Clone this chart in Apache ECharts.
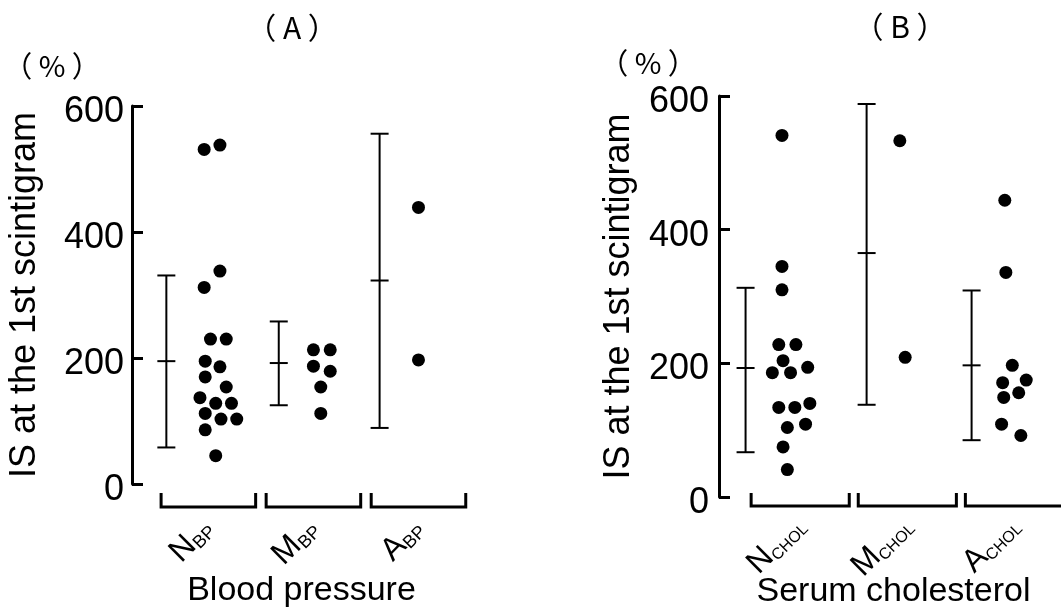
<!DOCTYPE html>
<html>
<head>
<meta charset="utf-8">
<script src="https://cdn.jsdelivr.net/npm/echarts@6/dist/echarts.min.js"></script>
<style>html,body{margin:0;background:#fff}#chart{width:1061px;height:613px}</style>
</head>
<body>
<div id="chart"></div>
<script>
// group letters and their subscripts
var bpGroups = ['N', 'M', 'A'];
var bpSub = 'BP';
var cholGroups = ['N', 'M', 'A'];
var cholSub = 'CHOL';
var yMax = 600;
var yStep = 200;

// (A) blood pressure: mean with range bar, bar sits left of the dots
var bpMean = [195, 192, 323];
var bpLow = [58, 125, 89];
var bpHigh = [331, 258, 556];
var bpBarShift = [-0.40, -0.33, -0.37];

// (A) individual values, with the sideways spread of each dot
var bpN = [538, 531, 338, 312, 230, 230, 195, 186, 170, 154, 137, 128, 128, 112, 103, 103, 86, 45];
var bpNShift = [0.11, -0.04, 0.11, -0.04, 0.02, 0.17, -0.03, 0.11, -0.03, 0.17, -0.08, 0.07, 0.22, -0.03, 0.12, 0.27, -0.03, 0.07];
var bpM = [213, 213, 187, 179, 154, 112];
var bpMShift = [0, 0.16, 0, 0.16, 0.07, 0.07];
var bpA = [439, 197];
var bpAShift = [0, 0];

// (B) serum cholesterol
var cholMean = [193, 365, 197];
var cholLow = [67, 138, 85];
var cholHigh = [313, 588, 309];
var cholBarShift = [-0.51, -0.38, -0.40];

var cholN = [541, 345, 310, 228, 228, 204, 186, 186, 194, 134, 134, 140, 104, 109, 75, 41];
var cholNShift = [-0.17, -0.17, -0.17, -0.20, -0.04, -0.16, -0.26, -0.09, 0.07, -0.20, -0.05, 0.09, -0.12, 0.05, -0.16, -0.12];
var cholM = [533, 209];
var cholMShift = [-0.07, -0.02];
var cholA = [444, 336, 197, 171, 175, 149, 156, 109, 92];
var cholAShift = [-0.09, -0.08, -0.02, -0.11, 0.11, -0.10, 0.04, -0.12, 0.06];

var FONT = 'Liberation Sans';

function dots(groups) {
  var out = [];
  groups.forEach(function (g, gi) {
    g.vals.forEach(function (v, i) {
      out.push([gi + g.shift[i], v]);
    });
  });
  return out;
}

function bars(mean, low, high, shift) {
  return mean.map(function (m, i) {
    return [i + shift[i], m, low[i], high[i]];
  });
}

function renderBar(params, api) {
  var x = api.value(0);
  var pm = api.coord([x, api.value(1)]);
  var pl = api.coord([x, api.value(2)]);
  var ph = api.coord([x, api.value(3)]);
  var w = 9;
  var st = { stroke: '#000', lineWidth: 2 };
  return {
    type: 'group',
    children: [
      { type: 'line', shape: { x1: pm[0], y1: pl[1], x2: pm[0], y2: ph[1] }, style: st },
      { type: 'line', shape: { x1: pm[0] - w, y1: ph[1], x2: pm[0] + w, y2: ph[1] }, style: st },
      { type: 'line', shape: { x1: pm[0] - w, y1: pm[1], x2: pm[0] + w, y2: pm[1] }, style: st },
      { type: 'line', shape: { x1: pm[0] - w, y1: pl[1], x2: pm[0] + w, y2: pl[1] }, style: st }
    ]
  };
}

// bracket under each group
function bracket(hw, top, bottom) {
  return function (params, api) {
    var i = api.value(0);
    var l = api.coord([i - hw, 0]);
    var r = api.coord([i + hw, 0]);
    return {
      type: 'polyline',
      shape: { points: [[l[0], l[1] + top], [l[0], l[1] + bottom], [r[0], r[1] + bottom], [r[0], r[1] + top]] },
      style: { stroke: '#000', lineWidth: 3, fill: null }
    };
  };
}

function xAxisOf(idx, min, groups, sub, name, gap, subSize, margin) {
  return {
    type: 'value', gridIndex: idx, min: min, max: 2.5,
    axisLine: { show: false }, axisTick: { show: false }, splitLine: { show: false },
    axisLabel: {
      customValues: [0, 1, 2], rotate: 45, margin: margin,
      formatter: function (v) { return '{n|' + groups[Math.round(v)] + '}{s|' + sub + '}'; },
      rich: {
        n: { fontFamily: FONT, fontSize: 32, color: '#000', lineHeight: 32 },
        s: { fontFamily: FONT, fontSize: subSize, color: '#000', verticalAlign: 'bottom', lineHeight: 19 }
      }
    },
    name: name, nameLocation: 'middle', nameGap: gap, nameMoveOverlap: false,
    nameTextStyle: { fontFamily: FONT, fontSize: 34, color: '#000' }
  };
}

function yAxisOf(idx, margin, gap) {
  return {
    type: 'value', gridIndex: idx, min: 0, max: yMax, interval: yStep,
    axisLine: { show: true, onZero: false, lineStyle: { color: '#000', width: 3 } },
    axisTick: { show: true, inside: true, length: 11, lineStyle: { color: '#000', width: 3 } },
    splitLine: { show: false },
    axisLabel: { fontFamily: FONT, fontSize: 36, color: '#000', margin: margin, verticalAlign: 'top', lineHeight: 12 },
    name: 'IS at the 1st scintigram', nameLocation: 'middle', nameGap: gap, nameMoveOverlap: false,
    nameTextStyle: { fontFamily: FONT, fontSize: 36, color: '#000' }
  };
}

var chart = echarts.init(document.getElementById('chart'));
chart.setOption({
  backgroundColor: '#fff',
  animation: false,
  graphic: [
    { type: 'text', x: 292, y: 28, style: { text: '（ A ）', font: '30px "Noto Sans CJK JP"', fill: '#000', textAlign: 'center', textVerticalAlign: 'middle' } },
    { type: 'text', x: 900, y: 27, style: { text: '（ B ）', font: '30px "Noto Sans CJK JP"', fill: '#000', textAlign: 'center', textVerticalAlign: 'middle' } },
    { type: 'text', x: 52, y: 66, style: { text: '（ % ）', font: '29px "Noto Sans CJK JP"', fill: '#000', textAlign: 'center', textVerticalAlign: 'middle' } },
    { type: 'text', x: 648, y: 63, style: { text: '（ % ）', font: '29px "Noto Sans CJK JP"', fill: '#000', textAlign: 'center', textVerticalAlign: 'middle' } }
  ],
  grid: [
    { left: 132, top: 106, width: 339, height: 378, outerBoundsMode: 'none' },
    { left: 719, top: 96, width: 349, height: 401, outerBoundsMode: 'none' }
  ],
  xAxis: [
    xAxisOf(0, -0.727, bpGroups, bpSub, 'Blood pressure', 90, 18, 40),
    xAxisOf(1, -0.758, cholGroups, cholSub, 'Serum cholesterol', 78, 16, 24)
  ],
  yAxis: [yAxisOf(0, 8, 89), yAxisOf(1, 10, 82)],
  series: [
    {
      type: 'custom', xAxisIndex: 0, yAxisIndex: 0, clip: false,
      renderItem: bracket(0.45, 9, 23), data: [[0], [1], [2]]
    },
    {
      type: 'custom', xAxisIndex: 1, yAxisIndex: 1, clip: false,
      renderItem: bracket(0.458, -4, 9), data: [[0], [1], [2]]
    },
    {
      type: 'custom', xAxisIndex: 0, yAxisIndex: 0, renderItem: renderBar,
      encode: { x: 0, y: [1, 2, 3] }, data: bars(bpMean, bpLow, bpHigh, bpBarShift)
    },
    {
      type: 'custom', xAxisIndex: 1, yAxisIndex: 1, renderItem: renderBar,
      encode: { x: 0, y: [1, 2, 3] }, data: bars(cholMean, cholLow, cholHigh, cholBarShift)
    },
    {
      type: 'scatter', xAxisIndex: 0, yAxisIndex: 0, symbolSize: 13,
      itemStyle: { color: '#000', opacity: 1 },
      data: dots([{ vals: bpN, shift: bpNShift }, { vals: bpM, shift: bpMShift }, { vals: bpA, shift: bpAShift }])
    },
    {
      type: 'scatter', xAxisIndex: 1, yAxisIndex: 1, symbolSize: 13,
      itemStyle: { color: '#000', opacity: 1 },
      data: dots([{ vals: cholN, shift: cholNShift }, { vals: cholM, shift: cholMShift }, { vals: cholA, shift: cholAShift }])
    }
  ]
});
</script>
</body>
</html>
